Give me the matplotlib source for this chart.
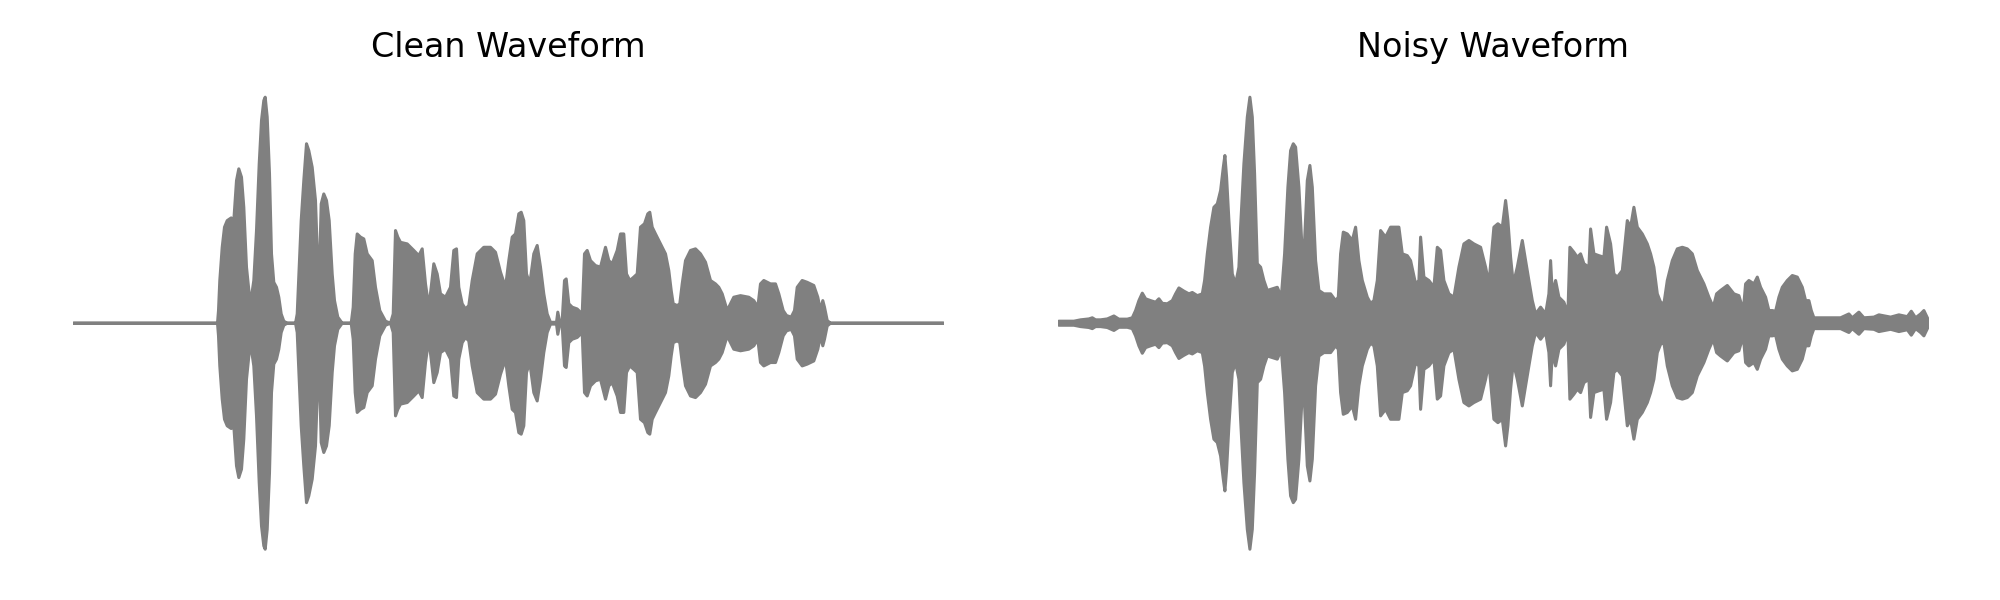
import numpy as np
import matplotlib
matplotlib.use("Agg")
import matplotlib.pyplot as plt

plt.rcParams["font.family"] = ["DejaVu Sans"]

# amplitude envelope of each waveform
# frame index (10 ms hop) -> peak amplitude, normalised to the loudest peak
clean_frames = [0, 144, 145, 146.3, 148.7, 151, 153.7, 157.7, 160.3, 163, 165.3, 168,
                170.3, 173, 175.7, 178, 180.3, 183, 185.7, 188, 190.3, 191.7, 193.7,
                196, 198, 200.3, 203, 205.3, 207.7, 210.3, 213.7, 222, 223.7, 225.7,
                227.7, 230.3, 233, 235.3, 238.7, 242, 244.3, 245.7, 247.7, 250.3, 253,
                255.7, 258.7, 261, 264.3, 268.7, 277.7, 279.7, 281.7, 283.7, 287,
                290.3, 293.7, 298.7, 302, 306.3, 312, 317, 319.7, 322, 324.3, 327,
                333.7, 340.3, 345.3, 348.7, 352, 355.3, 357.7, 360.3, 363.7, 367, 372,
                377, 380.3, 383, 385.3, 388.7, 392, 395.3, 398.7, 403.7, 410.3, 417,
                422, 427, 432, 435.3, 438.7, 442, 445.3, 447.7, 450.3, 453, 456.3,
                460.3, 463.7, 467, 470.3, 473.7, 477, 483, 484.3, 486.3, 488.7, 491,
                492.7, 495.3, 498.7, 503.7, 508.7, 511, 513.7, 517, 522, 527, 532,
                535.3, 538.7, 543.7, 547, 550.3, 553, 556.3, 560.3, 563.7, 567, 571,
                574.3, 576.3, 578.7, 582, 587, 592, 595.3, 597.7, 599.7, 603.7, 606.3,
                608.7, 612, 617, 622, 627, 632, 637, 642, 645.3, 648.7, 653.7, 657,
                660.3, 667, 675.3, 680.3, 684.3, 687, 690.3, 697, 702, 705.3, 709.7,
                713, 717.7, 721, 723.7, 728.7, 733.7, 740.3, 744.3, 747, 749.3, 751,
                753.7, 757, 870]
clean_env = [0, 0, 0.056, 0.189, 0.336, 0.425, 0.454, 0.466, 0.454, 0.631, 0.683,
             0.646, 0.513, 0.248, 0.130, 0.118, 0.189, 0.410, 0.705, 0.897, 0.985,
             1.0, 0.912, 0.661, 0.307, 0.181, 0.159, 0.115, 0.041, 0.009, 0, 0,
             0.041, 0.248, 0.454, 0.631, 0.794, 0.764, 0.690, 0.543, 0.248, 0.189,
             0.528, 0.572, 0.543, 0.454, 0.218, 0.100, 0.027, 0, 0, 0.071, 0.307,
             0.395, 0.381, 0.373, 0.307, 0.277, 0.159, 0.056, 0.009, 0, 0.041, 0.410,
             0.381, 0.358, 0.351, 0.322, 0.299, 0.329, 0.174, 0.071, 0.159, 0.263,
             0.218, 0.130, 0.115, 0.159, 0.322, 0.329, 0.159, 0.086, 0.063, 0.078,
             0.189, 0.307, 0.336, 0.336, 0.314, 0.226, 0.159, 0.277, 0.381, 0.395,
             0.484, 0.491, 0.454, 0.218, 0.174, 0.307, 0.344, 0.248, 0.130, 0.041,
             0.004, 0.004, 0.049, 0.004, 0.012, 0.189, 0.196, 0.086, 0.071, 0.063,
             0.041, 0.307, 0.322, 0.277, 0.255, 0.248, 0.336, 0.277, 0.263, 0.322,
             0.395, 0.395, 0.218, 0.189, 0.204, 0.218, 0.425, 0.440, 0.484, 0.491,
             0.425, 0.395, 0.351, 0.307, 0.233, 0.145, 0.086, 0.078, 0.086, 0.174,
             0.277, 0.322, 0.329, 0.307, 0.270, 0.189, 0.174, 0.159, 0.130, 0.056,
             0.086, 0.115, 0.122, 0.115, 0.100, 0.071, 0.174, 0.189, 0.174, 0.174,
             0.130, 0.056, 0.034, 0.027, 0.056, 0.159, 0.189, 0.181, 0.167, 0.115,
             0.056, 0.100, 0.071, 0.012, 0, 0]

noisy_frames = [0, 15, 21.7, 30, 33.4, 36.7, 41.7, 48.4, 55, 60, 68.4, 73.4, 76.7, 80,
                83.4, 86.7, 91.7, 96.7, 100, 103.4, 108.4, 113.4, 116.7, 120, 125,
                130, 133.4, 138.4, 143.4, 145.7, 148.4, 151.7, 155, 158.4, 161.7,
                164.4, 166, 167.7, 170, 173.4, 176.7, 180, 181.7, 185, 188.4, 191,
                193.4, 195.7, 198.4, 201.7, 205, 208.4, 213.4, 218.4, 222.4, 225.7,
                229, 231.7, 234.4, 236.7, 240, 243.4, 245.7, 248.4, 251, 253.4, 256.7,
                260, 265, 271.7, 276.7, 279.4, 281.7, 284.4, 288.4, 293.4, 296.7, 300,
                303.4, 308.4, 311.7, 315, 318.4, 321.7, 326.7, 331.7, 335, 340, 343.4,
                348.4, 351.7, 356.7, 360, 361.7, 365, 370, 375, 378.4, 381.7, 385, 390,
                395, 400, 405, 410, 415, 421.7, 426.7, 430, 435, 439, 443.4, 446.7,
                449, 451.7, 454.4, 458.4, 463.4, 466.7, 470, 473.4, 476.7, 481.7,
                486.7, 490, 491.7, 493.4, 496.7, 500, 505, 509, 511, 515, 518.4, 521.7,
                525, 530, 531.7, 535, 540, 545, 547.7, 551.7, 555, 558.4, 563.4, 568.4,
                571.7, 575, 578.4, 583.4, 588.4, 591.7, 595, 598.4, 601.7, 605, 608.4,
                613.4, 618.4, 623.4, 628.4, 633.4, 638.4, 645, 650, 654.4, 657.7,
                661.7, 668.4, 675, 680, 684.4, 686.7, 690, 695, 698.4, 701.7, 706.7,
                710, 713.4, 716.7, 720, 723.4, 728.4, 733.4, 738.4, 743.4, 746.7, 750,
                752.4, 755, 765, 781.7, 790, 793.4, 800, 805, 815, 820, 831.7, 840,
                848.4, 852.4, 856.7, 861.7, 865, 869, 870]
noisy_env = [0.009, 0.009, 0.015, 0.019, 0.024, 0.015, 0.015, 0.019, 0.032, 0.018,
             0.018, 0.024, 0.056, 0.100, 0.133, 0.108, 0.100, 0.093, 0.108, 0.088,
             0.086, 0.100, 0.130, 0.156, 0.142, 0.130, 0.136, 0.122, 0.130, 0.189,
             0.307, 0.425, 0.513, 0.528, 0.587, 0.690, 0.742, 0.646, 0.454, 0.218,
             0.174, 0.248, 0.425, 0.705, 0.912, 1.0, 0.912, 0.661, 0.263, 0.248,
             0.189, 0.145, 0.152, 0.159, 0.115, 0.307, 0.602, 0.764, 0.794, 0.779,
             0.602, 0.307, 0.366, 0.631, 0.698, 0.602, 0.277, 0.145, 0.130, 0.130,
             0.100, 0.115, 0.307, 0.403, 0.395, 0.366, 0.425, 0.277, 0.189, 0.115,
             0.088, 0.100, 0.189, 0.410, 0.381, 0.425, 0.425, 0.425, 0.307, 0.299,
             0.277, 0.174, 0.189, 0.381, 0.204, 0.189, 0.159, 0.336, 0.322, 0.189,
             0.130, 0.115, 0.248, 0.351, 0.366, 0.351, 0.336, 0.248, 0.174, 0.425,
             0.440, 0.425, 0.543, 0.454, 0.292, 0.174, 0.248, 0.366, 0.277, 0.189,
             0.100, 0.041, 0.071, 0.041, 0.130, 0.277, 0.130, 0.189, 0.115, 0.093,
             0.041, 0.336, 0.314, 0.292, 0.307, 0.263, 0.248, 0.417, 0.307, 0.299,
             0.292, 0.425, 0.351, 0.218, 0.204, 0.233, 0.454, 0.425, 0.513, 0.425,
             0.395, 0.351, 0.307, 0.248, 0.130, 0.093, 0.086, 0.189, 0.277, 0.329,
             0.336, 0.329, 0.307, 0.233, 0.174, 0.115, 0.071, 0.130, 0.145, 0.167,
             0.130, 0.122, 0.056, 0.174, 0.189, 0.174, 0.204, 0.159, 0.115, 0.056,
             0.056, 0.053, 0.115, 0.159, 0.189, 0.211, 0.204, 0.159, 0.100, 0.100,
             0.056, 0.024, 0.024, 0.024, 0.041, 0.024, 0.049, 0.024, 0.027, 0.037,
             0.027, 0.037, 0.029, 0.053, 0.024, 0.041, 0.056, 0.019, 0]

titles = ["Clean Waveform", "Noisy Waveform"]
waves = [(clean_frames, clean_env), (noisy_frames, noisy_env)]

fig = plt.figure(figsize=(20, 6), dpi=100)
lefts = [0.0365, 0.5292]

for left, title, (frames, env) in zip(lefts, titles, waves):
    ax = fig.add_axes([left, 0.0478, 0.435, 0.8287])
    frames = np.array(frames)
    env = np.array(env)
    ax.fill_between(frames, -env, env, color="gray", edgecolor="gray",
                    linewidth=2.2, joinstyle="round", capstyle="round")
    ax.set_xlim(0, 870)
    ax.set_ylim(-1.1, 1.1)
    ax.set_title(title, fontsize=24, pad=12)
    ax.axis("off")

plt.savefig("out.png", dpi=100)
plt.close()
